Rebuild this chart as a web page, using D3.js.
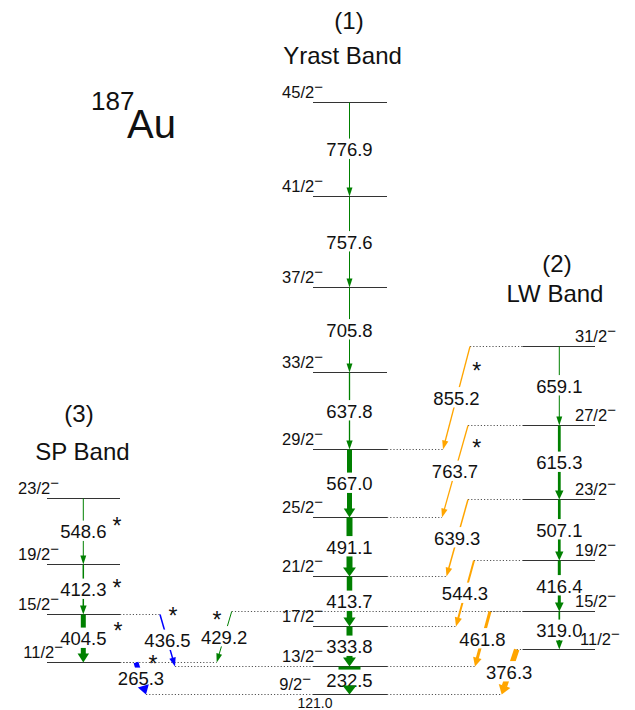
<!DOCTYPE html>
<html><head><meta charset="utf-8">
<script src="https://cdn.jsdelivr.net/npm/d3@7"></script>
<style>
body{margin:0;background:#fff}
svg{display:block}
text{font-family:"Liberation Sans",Arial,Helvetica,sans-serif;fill:#111}
</style>
</head><body>
<svg id="c" width="635" height="710"></svg>
<script>
// ================= DATA =================
const groundEnergy = 121.0;   // 9/2- band head energy (keV)
// (1) Yrast band, bottom to top
const yrastSpins = ["9/2","13/2","17/2","21/2","25/2","29/2","33/2","37/2","41/2","45/2"];
const yrastGammas = [232.5,333.8,413.7,491.1,567.0,637.8,705.8,757.6,776.9];
const yrastIntensity = [22,6,5.5,6,5,1.3,1,1,1];
const yrastNew = [false,false,false,false,false,false,false,false,false];
// (2) LW band
const lwSpins = ["11/2","15/2","19/2","23/2","27/2","31/2"];
const lwGammas = [319.0,416.4,507.1,615.3,659.1];
const lwIntensity = [1.7,3,2.7,2.8,1];
const lwNew = [false,false,false,false,false];
// (3) SP band
const spSpins = ["11/2","15/2","19/2","23/2"];
const spGammas = [404.5,412.3,548.6];
const spIntensity = [5,1.5,1];
const spNew = [true,true,true];
// inter-band transitions
const interGammas = [855.2,763.7,639.3,544.3,461.8,376.3,436.5,429.2,265.3];
const interFrom = ["lw:31/2","lw:27/2","lw:23/2","lw:19/2","lw:15/2","lw:11/2","sp:15/2","lw:15/2","sp:11/2"];
const interTo   = ["y:29/2","y:25/2","y:21/2","y:17/2","y:13/2","y:9/2","y:13/2","sp:11/2","y:9/2"];
const interIntensity = [1.3,1.3,1.5,2,3,5.5,1.5,1,5];
const interNew = [true,true,false,false,false,false,true,true,true];
const bandTitles = {y:["(1)","Yrast Band"], lw:["(2)","LW Band"], sp:["(3)","SP Band"]};
const parity = "−";

// ================= LAYOUT / STYLE =================
const bands = {
  y:  {x0:313, x1:387, ax:349.5, side:"end",   lx:323, title:[349,29, 342.5,64]},
  lw: {x0:522.5, x1:595, ax:559.3, side:"start", lx:575, title:[557,272, 555,301.5]},
  sp: {x0:47, x1:120, ax:83.3, side:"end",   lx:59, title:[79,422, 82.5,460]}
};
const labelXOverride = {"y:9/2":311, "sp:11/2":63, "lw:11/2":580};
const interLanes = [[470,443],[468,442],[468,446.5],[474,456],[490,475],[516.7,501.7],[160,175],[231.7,216.7],[136,146]];
const interColors = ["#FFA500","#FFA500","#FFA500","#FFA500","#FFA500","#FFA500","#0000FF","#008000","#0000FF"];
const starPos = {"sp:548.6":[117,521],"sp:412.3":[117,582.7],"sp:404.5":[118,625.7],
  "i:855.2":[476.7,365.7],"i:763.7":[476.7,443.3],"i:436.5":[173,610.7],"i:429.2":[217,615],"i:265.3":[153,659]};
const gammaFont = 18.5, levelFont = 16.5, titleFont = 24, starFont = 23;

// energy -> pixel scale
const y = d3.scaleLinear().domain([0, 5000]).range([708.87, 708.87 - 0.12042*5000]);
const yPix = e => Math.round(y(e)) + 0.5;

// ================= BUILD LEVELS =================
function buildBand(spins, gammas, base){
  const lv = {}; let e = base;
  spins.forEach((s,i)=>{ lv[s] = e; if (i < gammas.length) e += gammas[i]; });
  return lv;
}
const levels = {
  y:  buildBand(yrastSpins, yrastGammas, groundEnergy),
  lw: buildBand(lwSpins, lwGammas, groundEnergy + interGammas[5]),
  sp: buildBand(spSpins, spGammas, groundEnergy + interGammas[8])
};
const energyOf = id => { const [b,s] = id.split(":"); return levels[b][s]; };

// ================= DRAW =================
const svg = d3.select("#c");
const gLevels = svg.append("g"), gDots = svg.append("g"), gShafts = svg.append("g"),
      gLabels = svg.append("g"), gHeads = svg.append("g"), gText = svg.append("g");

function arrow(x1,y1,x2,y2,w,color){
  const dx=x2-x1, dy=y2-y1, L=Math.hypot(dx,dy), ux=dx/L, uy=dy/L;
  const hl = 9, hw = Math.min(14, 4.5 + 1.4*w);
  const bx = x2-ux*hl, by = y2-uy*hl;
  gShafts.append("line").attr("x1",x1).attr("y1",y1).attr("x2",bx+ux*0.5).attr("y2",by+uy*0.5)
    .attr("stroke",color).attr("stroke-width",w);
  const px=-uy, py=ux;
  gHeads.append("path").attr("d",`M${x2},${y2}L${bx+px*hw/2},${by+py*hw/2}L${bx-px*hw/2},${by-py*hw/2}Z`)
    .attr("fill",color);
}
function gammaLabel(txt, cx, cy){
  const base = cy+0.36*gammaFont;
  const t = gLabels.append("text").attr("x",cx).attr("y",base)
    .attr("text-anchor","middle").style("font-size",gammaFont+"px").text(txt);
  const bb = t.node().getBBox();
  gLabels.insert("rect","text").attr("x",bb.x-1).attr("width",bb.width+2)
    .attr("y",base-0.95*gammaFont).attr("height",1.1*gammaFont).attr("fill","#fff");
  gLabels.node().appendChild(t.node());
}
function star(p){
  gText.append("text").attr("x",p[0]).attr("y",p[1]+0.57*starFont).attr("text-anchor","middle")
    .style("font-size",starFont+"px").text("*");
}

// level lines + labels + titles
Object.keys(levels).forEach(b=>{
  const B = bands[b];
  Object.entries(levels[b]).forEach(([s,e])=>{
    const yy = yPix(e);
    gLevels.append("line").attr("x1",B.x0).attr("x2",B.x1).attr("y1",yy).attr("y2",yy)
      .attr("stroke","#333").attr("stroke-width",1);
    const lx = labelXOverride[b+":"+s] ?? B.lx;
    const t = gText.append("text").attr("x",lx).attr("y",yy-4.5).attr("text-anchor",B.side)
      .style("font-size",levelFont+"px");
    t.append("tspan").text(s);
    t.append("tspan").attr("dy",-6).style("font-size","15px").text(parity);
  });
  const T = bandTitles[b];
  gText.append("text").attr("x",B.title[0]).attr("y",B.title[1]).attr("text-anchor","middle")
    .style("font-size",titleFont+"px").text(T[0]);
  gText.append("text").attr("x",B.title[2]).attr("y",B.title[3]).attr("text-anchor","middle")
    .style("font-size",titleFont+"px").text(T[1]);
});

// intra-band transitions
function intra(b, spins, gammas, inten, isNew){
  const B = bands[b];
  gammas.forEach((g,i)=>{
    const yTop = yPix(levels[b][spins[i+1]]), yBot = yPix(levels[b][spins[i]]);
    arrow(B.ax, yTop, B.ax, yBot, inten[i], "#008000");
    gammaLabel(g.toFixed(1), B.ax, (yTop+yBot)/2);
    if (isNew[i]) star(starPos[b+":"+g.toFixed(1)]);
  });
}
intra("y", yrastSpins, yrastGammas, yrastIntensity, yrastNew);
intra("lw", lwSpins, lwGammas, lwIntensity, lwNew);
intra("sp", spSpins, spGammas, spIntensity, spNew);

// inter-band transitions with dotted connectors
function dotted(bandKey, yy, xl){
  const B = bands[bandKey];
  let a, c;
  if (xl > B.x1) { a = B.x1; c = xl; } else if (xl < B.x0) { a = xl; c = B.x0; } else return;
  gDots.append("line").attr("x1",a).attr("x2",c).attr("y1",yy).attr("y2",yy)
    .attr("stroke","#555").attr("stroke-width",1).attr("stroke-dasharray","1.2,2");
}
interGammas.forEach((g,i)=>{
  const y1 = yPix(energyOf(interFrom[i])), y2 = yPix(energyOf(interTo[i]));
  const [xs, xe] = interLanes[i];
  dotted(interFrom[i].split(":")[0], y1, xs);
  dotted(interTo[i].split(":")[0], y2, xe);
  arrow(xs, y1, xe, y2, interIntensity[i], interColors[i]);
  gammaLabel(g.toFixed(1), (xs+xe)/2, (y1+y2)/2);
  if (interNew[i]) star(starPos["i:"+g.toFixed(1)]);
});

// nucleus label and band-head energy
gText.append("text").attr("x",91).attr("y",110).style("font-size","26px").text("187");
gText.append("text").attr("x",127).attr("y",138).style("font-size","40px").text("Au");
gText.append("text").attr("x",315).attr("y",708).attr("text-anchor","middle")
  .style("font-size","14px").text(groundEnergy.toFixed(1));
</script>
</body></html>
